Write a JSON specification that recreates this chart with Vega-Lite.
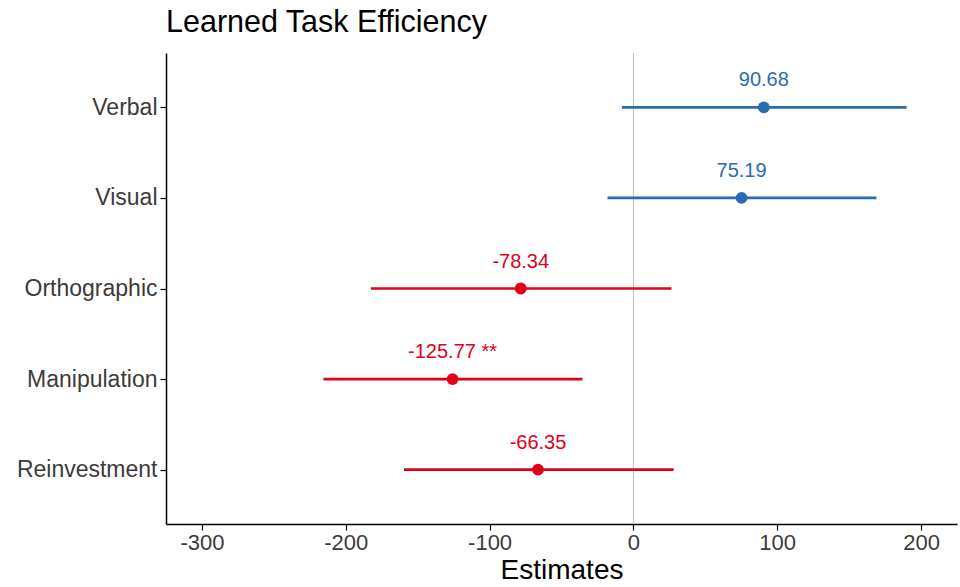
{
  "$schema": "https://vega.github.io/schema/vega-lite/v6.json",
  "width": 791,
  "height": 471,
  "autosize": {"type": "none"},
  "padding": {"left": 166, "top": 53, "right": 3, "bottom": 63},
  "background": "white",
  "title": {
    "text": "Learned Task Efficiency",
    "anchor": "start",
    "frame": "group",
    "fontSize": 30.5,
    "font": "Liberation Sans",
    "fontWeight": "normal",
    "color": "black",
    "offset": 14
  },
  "config": {
    "view": {"stroke": null},
    "font": "Liberation Sans"
  },
  "data": {
    "values": [
      {"term": "Verbal", "estimate": 90.68, "lo": -8, "hi": 190, "label": "90.68", "sign": "pos"},
      {"term": "Visual", "estimate": 75.19, "lo": -18, "hi": 169, "label": "75.19", "sign": "pos"},
      {"term": "Orthographic", "estimate": -78.34, "lo": -182.5, "hi": 26.5, "label": "-78.34", "sign": "neg"},
      {"term": "Manipulation", "estimate": -125.77, "lo": -215.5, "hi": -35.5, "label": "-125.77 **", "sign": "neg"},
      {"term": "Reinvestment", "estimate": -66.35, "lo": -159.5, "hi": 28, "label": "-66.35", "sign": "neg"}
    ]
  },
  "encoding": {
    "y": {
      "field": "term",
      "type": "nominal",
      "sort": ["Verbal", "Visual", "Orthographic", "Manipulation", "Reinvestment"],
      "scale": {"type": "point", "padding": 0.6},
      "axis": {
        "title": null,
        "labelFontSize": 23,
        "labelColor": "#3b3b3b",
        "labelPadding": 3,
        "tickSize": 6,
        "tickColor": "black",
        "tickWidth": 1.2,
        "domainColor": "black",
        "domainWidth": 1.5,
        "grid": false
      }
    },
    "color": {
      "field": "sign",
      "type": "nominal",
      "scale": {"domain": ["pos", "neg"], "range": ["#2b6cb0", "#e0001a"]},
      "legend": null
    }
  },
  "layer": [
    {
      "mark": {"type": "rule", "color": "#bdbdbd", "strokeWidth": 1},
      "data": {"values": [{"zero": 0}]},
      "encoding": {
        "x": {"field": "zero", "type": "quantitative"},
        "y": null,
        "color": null
      }
    },
    {
      "mark": {"type": "rule", "strokeWidth": 2.6},
      "encoding": {
        "x": {
          "field": "lo",
          "type": "quantitative",
          "scale": {"domain": [-325, 225], "nice": false, "zero": false},
          "axis": {
            "title": "Estimates",
            "titleFontSize": 28,
            "titleFontWeight": "normal",
            "titleColor": "black",
            "titlePadding": 3,
            "values": [-300, -200, -100, 0, 100, 200],
            "labelExpr": "'' + datum.value",
            "labelFontSize": 22,
            "labelColor": "#3b3b3b",
            "labelPadding": 2,
            "tickSize": 6,
            "tickColor": "black",
            "tickWidth": 1.2,
            "domainColor": "black",
            "domainWidth": 1.5,
            "grid": false
          }
        },
        "x2": {"field": "hi"}
      }
    },
    {
      "mark": {"type": "point", "filled": true, "opacity": 1, "size": 140},
      "encoding": {
        "x": {"field": "estimate", "type": "quantitative"}
      }
    },
    {
      "mark": {"type": "text", "fontSize": 20, "dy": -27},
      "encoding": {
        "x": {"field": "estimate", "type": "quantitative"},
        "text": {"field": "label"}
      }
    }
  ]
}
